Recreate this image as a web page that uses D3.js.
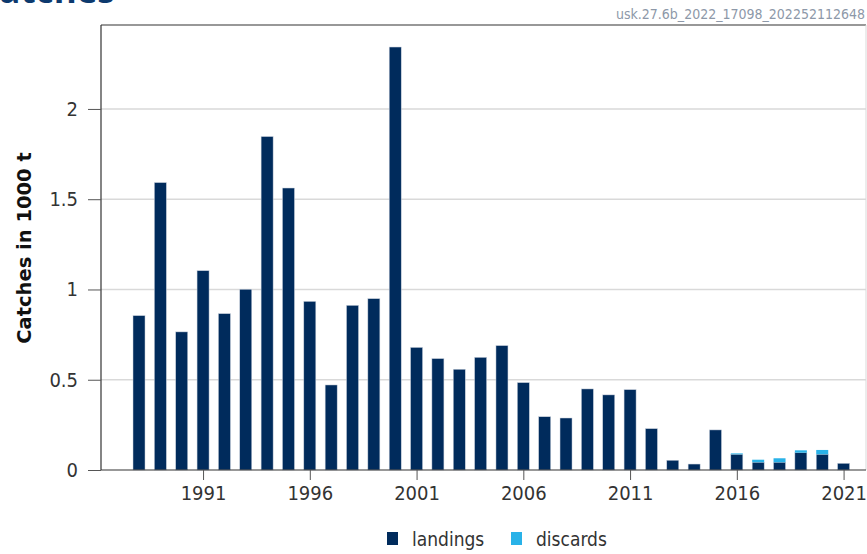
<!DOCTYPE html>
<html><head><meta charset="utf-8">
<script src="https://cdn.jsdelivr.net/npm/d3@7"></script>
<style>html,body{margin:0;padding:0;background:#fff;}svg{display:block;}</style>
</head><body>
<svg id="c" width="867" height="554"></svg>
<script>
const years = d3.range(1988, 2022);
const landings = [0.855,1.592,0.765,1.104,0.866,1.001,1.847,1.562,0.934,0.471,0.912,0.949,2.343,
  0.679,0.617,0.558,0.624,0.689,0.484,0.295,0.288,0.449,0.416,0.445,0.229,0.054,0.033,0.222,
  0.087,0.043,0.043,0.096,0.087,0.037];
const discards = [0,0,0,0,0,0,0,0,0,0,0,0,0,
  0,0,0,0,0,0,0,0,0,0,0,0,0,0,0,
  0.005,0.014,0.022,0.013,0.024,0];
const yTicks = [0,0.5,1,1.5,2];
const xTicks = [1991,1996,2001,2006,2011,2016,2021];
const seriesNames = ["landings","discards"];
const colors = ["#002b5c","#29b2e8"];
const yTitle = "Catches in 1000 t";
const stockCode = "usk.27.6b_2022_17098_202252112648";
const mainTitle = "Catches";

const svg = d3.select("#c");
const L = 101, R = 866, T = 25, B = 470;
const x = d3.scaleLinear().domain([1986.22, 2022.05]).range([L, R]);
const y = d3.scaleLinear().domain([0, 2.465]).range([B, T]);
const barW = 12;
const fontMain = "'DejaVu Sans Condensed','Open Sans',sans-serif";

// title (cut off at top, as in the reference)
svg.append("text").attr("x", -23).attr("y", 3).text(mainTitle)
  .attr("font-family","'Open Sans',sans-serif").attr("font-weight","bold")
  .attr("font-size", 35).attr("fill","#0d3a6e");
svg.append("text").attr("x", 865).attr("y", 19).attr("text-anchor","end").text(stockCode)
  .attr("font-family", fontMain).attr("font-size", 14).attr("fill","#8d98a8");

// gridlines
svg.append("g").selectAll("line").data(yTicks.filter(d=>d>0)).join("line")
  .attr("x1", L).attr("x2", R).attr("y1", d=>y(d)).attr("y2", d=>y(d))
  .attr("stroke","#d9d9d9").attr("stroke-width",1.5);

// frame
svg.append("line").attr("x1",L).attr("x2",R).attr("y1",T).attr("y2",T).attr("stroke","#333").attr("stroke-width",1.2);
svg.append("line").attr("x1",R).attr("x2",R).attr("y1",T).attr("y2",B).attr("stroke","#d9d9d9").attr("stroke-width",1);

// bars
const stack = years.map((yr,i)=>({yr, l: landings[i], d: discards[i]}));
const g = svg.append("g");
g.selectAll("rect.l").data(stack).join("rect").attr("class","l")
  .attr("x", d=>x(d.yr)-barW/2).attr("width", barW)
  .attr("y", d=>y(d.l)).attr("height", d=>y(0)-y(d.l))
  .attr("fill", colors[0]).attr("stroke","#c8d0dc").attr("stroke-width",0.5);
g.selectAll("rect.d").data(stack.filter(d=>d.d>0)).join("rect").attr("class","d")
  .attr("x", d=>x(d.yr)-barW/2).attr("width", barW)
  .attr("y", d=>y(d.l+d.d)).attr("height", d=>y(d.l)-y(d.l+d.d))
  .attr("fill", colors[1]);

// y axis
const ya = svg.append("g").attr("transform",`translate(${L},0)`)
  .call(d3.axisLeft(y).tickValues(yTicks).tickSize(13).tickPadding(10).tickFormat(d3.format("~g")));
ya.select(".domain").attr("stroke","#333").attr("stroke-width",1.2).attr("d",`M0,${T}V${B}`);
ya.selectAll(".tick line").attr("stroke","#555");
ya.selectAll("text").attr("font-family",fontMain).attr("font-size",20).attr("fill","#333").attr("font-weight",300);

// x axis
const xa = svg.append("g").attr("transform",`translate(0,${B})`)
  .call(d3.axisBottom(x).tickValues(xTicks).tickSize(10).tickPadding(6).tickFormat(d3.format("d")));
xa.select(".domain").attr("stroke","#333").attr("stroke-width",1.2).attr("d",`M${L},0H${R}`);
xa.selectAll(".tick line").attr("stroke","#555");
xa.selectAll("text").attr("font-family",fontMain).attr("font-size",20).attr("fill","#333").attr("font-weight",300);

// y title
svg.append("text").attr("transform","translate(31,248) rotate(-90)").attr("text-anchor","middle")
  .text(yTitle).attr("font-family","'DejaVu Sans',sans-serif").attr("font-weight","bold")
  .attr("font-size",19.5).attr("fill","#111");

// legend
const leg = svg.append("g");
const legX = [387, 511];
seriesNames.forEach((n,i)=>{
  leg.append("rect").attr("x",legX[i]).attr("y",532).attr("width",11).attr("height",13).attr("fill",colors[i]);
  leg.append("text").attr("x",legX[i]+25).attr("y",546).text(n)
    .attr("font-family",fontMain).attr("font-size",19).attr("fill","#333");
});
</script>
</body></html>
